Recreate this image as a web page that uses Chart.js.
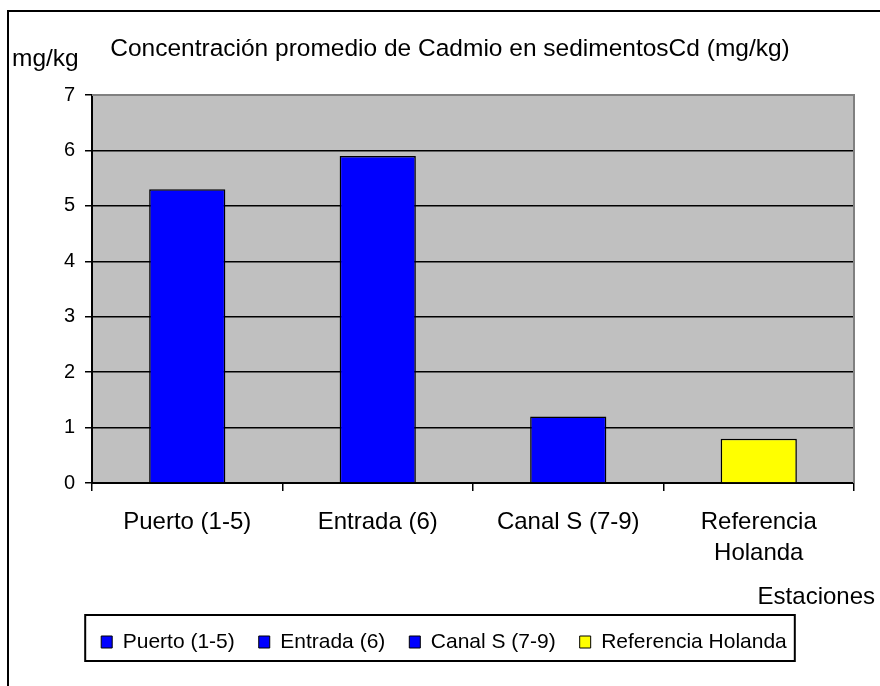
<!DOCTYPE html>
<html>
<head>
<meta charset="utf-8">
<script src="https://cdn.jsdelivr.net/npm/chart.js@4/dist/chart.umd.min.js"></script>
<style>
  html, body { margin: 0; padding: 0; background: #ffffff; }
  canvas { display: block; }
</style>
</head>
<body>
<canvas id="c" width="880" height="686"></canvas>
<script>
// ---- data ----
const categories = ['Puerto (1-5)', 'Entrada (6)', 'Canal S (7-9)', 'Referencia Holanda'];
const xTickLines = [['Puerto (1-5)'], ['Entrada (6)'], ['Canal S (7-9)'], ['Referencia', 'Holanda']];
const cdValues = [5.3, 5.9, 1.2, 0.8];
const barColors = ['#0000FF', '#0000FF', '#0000FF', '#FFFF00'];
const yMin = 0, yMax = 7, yStep = 1;
const titleText = 'Concentración promedio de Cadmio en sedimentosCd (mg/kg)';
const yUnitText = 'mg/kg';
const xAxisText = 'Estaciones';

const FONT = '"Liberation Sans", Arial, sans-serif';
const LEGEND_FONT = 21;
const LEGEND_PAD = 24;

const decorPlugin = {
  id: 'decor',
  beforeDraw(chart) {
    const ctx = chart.ctx;
    const a = chart.chartArea;
    ctx.save();
    ctx.fillStyle = '#ffffff';
    ctx.fillRect(0, 0, chart.width, chart.height);
    ctx.fillStyle = '#C0C0C0';
    ctx.fillRect(a.left, a.top, a.right - a.left, a.bottom - a.top);
    ctx.restore();
  },
  afterDraw(chart) {
    const ctx = chart.ctx;
    const a = chart.chartArea;
    ctx.save();
    // plot frame top/right (gray)
    ctx.strokeStyle = '#808080';
    ctx.lineWidth = 2;
    ctx.beginPath();
    ctx.moveTo(a.left, a.top);
    ctx.lineTo(a.right, a.top);
    ctx.lineTo(a.right, a.bottom);
    ctx.stroke();
    // outer chart border
    ctx.strokeStyle = '#000000';
    ctx.lineWidth = 2;
    ctx.strokeRect(8, 11, chart.width + 20, chart.height + 20);
    // texts
    ctx.fillStyle = '#000000';
    ctx.font = '24.5px ' + FONT;
    ctx.textBaseline = 'alphabetic';
    ctx.textAlign = 'center';
    ctx.fillText(titleText, 450, 56);
    ctx.textAlign = 'left';
    ctx.fillText(yUnitText, 12, 66);
    ctx.font = '24px ' + FONT;
    ctx.textAlign = 'right';
    ctx.fillText(xAxisText, 875, 604);
    // legend box
    const lg = chart.legend;
    if (lg && lg.legendHitBoxes && lg.legendHitBoxes.length) {
      const hb = lg.legendHitBoxes;
      const first = hb[0], last = hb[hb.length - 1];
      const left = first.left - 16;
      const right = last.left + last.width + 8;
      const center = lg.top + LEGEND_PAD + LEGEND_FONT / 2;
      const top = center - 27;
      const bottom = center + 19;
      ctx.strokeStyle = '#000000';
      ctx.lineWidth = 2;
      ctx.strokeRect(left, top, right - left, bottom - top);
    }
    ctx.restore();
  }
};

new Chart(document.getElementById('c'), {
  type: 'bar',
  data: {
    labels: categories,
    datasets: [{
      label: 'Cd (mg/kg)',
      data: cdValues,
      backgroundColor: barColors,
      borderColor: '#000000',
      borderWidth: 1.5,
      barPercentage: 0.4,
      categoryPercentage: 1.0
    }]
  },
  options: {
    responsive: false,
    devicePixelRatio: 1,
    animation: false,
    layout: { padding: { left: 34, right: 26, top: 95, bottom: 23.5 } },
    plugins: {
      title: { display: false },
      tooltip: { enabled: false },
      legend: {
        display: true,
        position: 'bottom',
        labels: {
          font: { family: FONT, size: LEGEND_FONT },
          color: '#000000',
          boxWidth: 11,
          boxHeight: 12,
          padding: LEGEND_PAD,
          generateLabels(chart) {
            return categories.map((c, i) => ({
              text: c,
              fillStyle: barColors[i],
              strokeStyle: '#000000',
              lineWidth: 1,
              hidden: false,
              index: i
            }));
          }
        },
        onClick: () => {}
      }
    },
    scales: {
      x: {
        offset: true,
        grid: {
          offset: true,
          drawOnChartArea: false,
          drawTicks: true,
          tickLength: 8,
          color: '#000000',
          lineWidth: 1.5
        },
        border: { display: true, color: '#000000', width: 2 },
        ticks: {
          font: { family: FONT, size: 24, lineHeight: 1.29 },
          color: '#000000',
          padding: 15.5,
          maxRotation: 0,
          autoSkip: false,
          callback: (v, i) => xTickLines[i]
        },
        afterFit(scale) { scale.height = 124.5; }
      },
      y: {
        min: yMin,
        max: yMax,
        ticks: {
          stepSize: yStep,
          font: { family: FONT, size: 20 },
          color: '#000000',
          padding: 10
        },
        grid: {
          color: (c) => (c.tick && c.tick.value === yMax) ? '#808080' : '#000000',
          tickColor: '#000000',
          lineWidth: 1.5,
          tickLength: 7
        },
        border: { display: true, color: '#000000', width: 2 },
        afterFit(scale) { scale.width = 58; }
      }
    }
  },
  plugins: [decorPlugin]
});
</script>
</body>
</html>
